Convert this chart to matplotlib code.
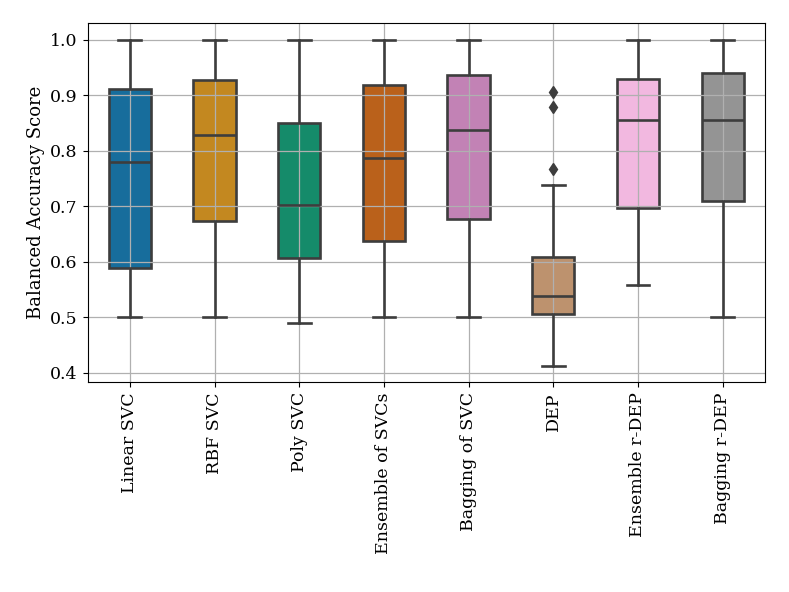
import matplotlib
matplotlib.use("Agg")
from matplotlib import pyplot as plt
import seaborn as sns

models = ['Linear SVC', 'RBF SVC', 'Poly SVC', 'Ensemble of SVCs',
          'Bagging of SVC', 'DEP', 'Ensemble r-DEP', 'Bagging r-DEP']
q1 = [0.589, 0.673, 0.607, 0.638, 0.678, 0.506, 0.697, 0.710]
med = [0.780, 0.829, 0.703, 0.787, 0.837, 0.538, 0.855, 0.856]
q3 = [0.911, 0.928, 0.851, 0.918, 0.937, 0.609, 0.930, 0.941]
wlo = [0.500, 0.500, 0.490, 0.500, 0.500, 0.413, 0.559, 0.500]
whi = [1.000, 1.000, 1.000, 1.000, 1.000, 0.739, 1.000, 1.000]
fliers = [[], [], [], [], [], [0.906, 0.880, 0.768], [], []]

plt.rcParams['font.family'] = ['DejaVu Serif']
plt.rcParams['font.size'] = 12.5

stats = []
for i in range(len(models)):
    stats.append({'label': models[i], 'q1': q1[i], 'med': med[i], 'q3': q3[i],
                  'whislo': wlo[i], 'whishi': whi[i], 'fliers': fliers[i]})

pal = sns.color_palette('colorblind', len(models))
cols = [sns.desaturate(c, 0.75) for c in pal]
gray = '0.24'
lw = 1.9

fig = plt.figure(figsize=(7.89, 5.92), dpi=100)
ax = fig.add_subplot(111)
fig.subplots_adjust(left=0.111, right=0.9696, top=0.9606, bottom=0.3542)

bp = ax.bxp(stats, positions=range(len(models)), widths=0.5, patch_artist=True,
            capwidths=0.27,
            boxprops=dict(edgecolor=gray, linewidth=lw),
            whiskerprops=dict(color=gray, linewidth=lw),
            capprops=dict(color=gray, linewidth=lw),
            medianprops=dict(color=gray, linewidth=lw),
            flierprops=dict(marker='d', markerfacecolor=gray, markeredgecolor=gray,
                            markersize=6.5))
# boxes under the grid, lines over it
for patch, c in zip(bp['boxes'], cols):
    patch.set_facecolor(c)
    patch.set_zorder(1)

ax.set_xlim(-0.5, len(models) - 0.5)
ax.set_ylim(0.383, 1.030)
ax.set_yticks([0.4, 0.5, 0.6, 0.7, 0.8, 0.9, 1.0])
ax.set_xticks(range(len(models)))
ax.set_xticklabels(models, rotation=90)
ax.set_ylabel('Balanced Accuracy Score', fontsize=13)
ax.set_axisbelow('line')
ax.grid(True, color='#b0b0b0', linewidth=0.9)

fig.savefig('out.png', dpi=100)
